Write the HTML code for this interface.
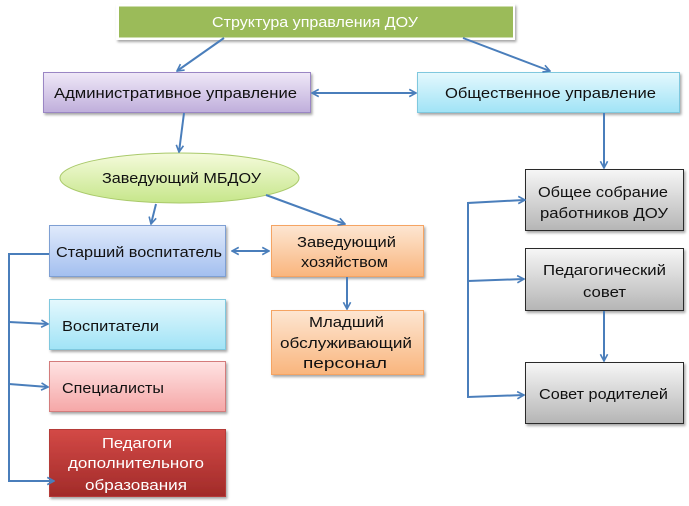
<!DOCTYPE html>
<html><head><meta charset="utf-8">
<style>
html,body{margin:0;padding:0;background:#fff;width:689px;height:506px;overflow:hidden}
svg{display:block}
text{font-family:"Liberation Sans","DejaVu Sans",sans-serif;font-size:15px;fill:#111}
</style></head><body>
<svg width="689" height="506" viewBox="0 0 689 506" xmlns="http://www.w3.org/2000/svg">
<defs>
<filter id="sh" x="-10%" y="-20%" width="125%" height="150%">
<feDropShadow dx="1.5" dy="2" stdDeviation="1.3" flood-color="#000" flood-opacity="0.35"/>
</filter>
<marker id="ar" viewBox="0 0 10 10" refX="9" refY="5" markerWidth="9" markerHeight="9" orient="auto-start-reverse" markerUnits="userSpaceOnUse">
<path d="M1.5,1 L9,5 L1.5,9" fill="none" stroke="#4a7ebb" stroke-width="1.8"/>
</marker>
<linearGradient id="gPur" x1="0" y1="0" x2="0" y2="1"><stop offset="0" stop-color="#efe8f7"/><stop offset="1" stop-color="#bfaedb"/></linearGradient>
<linearGradient id="gCy" x1="0" y1="0" x2="0" y2="1"><stop offset="0" stop-color="#e4f8fd"/><stop offset="1" stop-color="#a0e3f6"/></linearGradient>
<linearGradient id="gBl" x1="0" y1="0" x2="0" y2="1"><stop offset="0" stop-color="#e0eafb"/><stop offset="1" stop-color="#a3bfef"/></linearGradient>
<linearGradient id="gPk" x1="0" y1="0" x2="0" y2="1"><stop offset="0" stop-color="#ffe3e3"/><stop offset="1" stop-color="#f5a7a7"/></linearGradient>
<linearGradient id="gRd" x1="0" y1="0" x2="0" y2="1"><stop offset="0" stop-color="#d34946"/><stop offset="1" stop-color="#a12b29"/></linearGradient>
<linearGradient id="gOr" x1="0" y1="0" x2="0" y2="1"><stop offset="0" stop-color="#fde6d2"/><stop offset="1" stop-color="#f9b57d"/></linearGradient>
<linearGradient id="gGr" x1="0" y1="0" x2="0" y2="1"><stop offset="0" stop-color="#f6f6f6"/><stop offset="1" stop-color="#b5b5b5"/></linearGradient>
<linearGradient id="gEl" x1="0" y1="0" x2="0" y2="1"><stop offset="0" stop-color="#f5fbdc"/><stop offset="1" stop-color="#c6e68a"/></linearGradient>
</defs>

<!-- Boxes -->
<rect x="116" y="4" width="399" height="36" fill="#fff" filter="url(#sh)"/>
<rect x="119" y="6.5" width="394" height="31" fill="#9bbb59"/>
<text x="212" y="27" textLength="206" lengthAdjust="spacingAndGlyphs" style="fill:#fff">Структура управления ДОУ</text>

<rect x="43.5" y="72.5" width="267" height="40" fill="url(#gPur)" stroke="#9a86c4" stroke-width="1" filter="url(#sh)"/>
<text x="54" y="98" textLength="243" lengthAdjust="spacingAndGlyphs">Административное управление</text>

<rect x="417.5" y="72.5" width="262" height="40" fill="url(#gCy)" stroke="#7fc8de" stroke-width="1" filter="url(#sh)"/>
<text x="445" y="98" textLength="211" lengthAdjust="spacingAndGlyphs">Общественное управление</text>

<ellipse cx="179.5" cy="178" rx="119.5" ry="25" fill="url(#gEl)" stroke="#a9c96a" stroke-width="1"/>
<text x="102" y="183" textLength="159" lengthAdjust="spacingAndGlyphs">Заведующий МБДОУ</text>

<rect x="49.5" y="225.5" width="176" height="51" fill="url(#gBl)" stroke="#7e9fd3" stroke-width="1" filter="url(#sh)"/>
<text x="56" y="257" textLength="166" lengthAdjust="spacingAndGlyphs">Старший воспитатель</text>

<rect x="49.5" y="299.5" width="176" height="50" fill="url(#gCy)" stroke="#7fc8de" stroke-width="1" filter="url(#sh)"/>
<text x="62" y="331" textLength="97" lengthAdjust="spacingAndGlyphs">Воспитатели</text>

<rect x="49.5" y="361.5" width="176" height="50" fill="url(#gPk)" stroke="#d47c7c" stroke-width="1" filter="url(#sh)"/>
<text x="62" y="393" textLength="102" lengthAdjust="spacingAndGlyphs">Специалисты</text>

<rect x="49.5" y="429.5" width="176" height="67" fill="url(#gRd)" stroke="#b53a37" stroke-width="1" filter="url(#sh)"/>
<text x="102" y="448" textLength="70" lengthAdjust="spacingAndGlyphs" style="fill:#fff">Педагоги</text>
<text x="68" y="468" textLength="136" lengthAdjust="spacingAndGlyphs" style="fill:#fff">дополнительного</text>
<text x="85" y="490" textLength="102" lengthAdjust="spacingAndGlyphs" style="fill:#fff">образования</text>

<rect x="271.5" y="225.5" width="152" height="51" fill="url(#gOr)" stroke="#f5a463" stroke-width="1" filter="url(#sh)"/>
<text x="297" y="247" textLength="99" lengthAdjust="spacingAndGlyphs">Заведующий</text>
<text x="301" y="267" textLength="87" lengthAdjust="spacingAndGlyphs">хозяйством</text>

<rect x="271.5" y="310.5" width="152" height="64" fill="url(#gOr)" stroke="#f5a463" stroke-width="1" filter="url(#sh)"/>
<text x="309" y="327" textLength="75" lengthAdjust="spacingAndGlyphs">Младший</text>
<text x="280" y="348" textLength="132" lengthAdjust="spacingAndGlyphs">обслуживающий</text>
<text x="303" y="368" textLength="84" lengthAdjust="spacingAndGlyphs">персонал</text>

<rect x="525.5" y="169.5" width="158" height="61" fill="url(#gGr)" stroke="#2a2a2a" stroke-width="1" filter="url(#sh)"/>
<text x="538" y="197" textLength="130" lengthAdjust="spacingAndGlyphs">Общее собрание</text>
<text x="540" y="218" textLength="128" lengthAdjust="spacingAndGlyphs">работников ДОУ</text>

<rect x="525.5" y="248.5" width="158" height="62" fill="url(#gGr)" stroke="#2a2a2a" stroke-width="1" filter="url(#sh)"/>
<text x="543" y="275" textLength="123" lengthAdjust="spacingAndGlyphs">Педагогический</text>
<text x="583" y="297" textLength="43" lengthAdjust="spacingAndGlyphs">совет</text>

<rect x="525.5" y="362.5" width="158" height="61" fill="url(#gGr)" stroke="#2a2a2a" stroke-width="1" filter="url(#sh)"/>
<text x="539" y="399" textLength="129" lengthAdjust="spacingAndGlyphs">Совет родителей</text>

<!-- Connectors -->
<g fill="none" stroke="#4a7ebb" stroke-width="2">
<line x1="224" y1="38" x2="177" y2="71" marker-end="url(#ar)"/>
<line x1="463" y1="38" x2="550" y2="71" marker-end="url(#ar)"/>
<line x1="312" y1="93" x2="416" y2="93" marker-start="url(#ar)" marker-end="url(#ar)"/>
<line x1="184" y1="113" x2="179" y2="152" marker-end="url(#ar)"/>
<line x1="156" y1="204" x2="151" y2="224" marker-end="url(#ar)"/>
<line x1="266" y1="195" x2="345" y2="224" marker-end="url(#ar)"/>
<line x1="232" y1="251" x2="269" y2="251" marker-start="url(#ar)" marker-end="url(#ar)"/>
<line x1="347" y1="277" x2="347" y2="309" marker-end="url(#ar)"/>
<polyline points="49,254 9,254 9,481 54,481" marker-end="url(#ar)"/>
<line x1="9" y1="322" x2="48" y2="324" marker-end="url(#ar)"/>
<line x1="9" y1="384" x2="48" y2="387" marker-end="url(#ar)"/>
<line x1="604" y1="113" x2="604" y2="168" marker-end="url(#ar)"/>
<line x1="604" y1="311" x2="604" y2="361" marker-end="url(#ar)"/>
<polyline points="524,200 468,203 468,397 524,395" marker-end="url(#ar)"/>
<line x1="524" y1="200" x2="525" y2="200" marker-end="url(#ar)"/>
<line x1="468" y1="281" x2="524" y2="279" marker-end="url(#ar)"/>
</g>
</svg>
</body></html>
